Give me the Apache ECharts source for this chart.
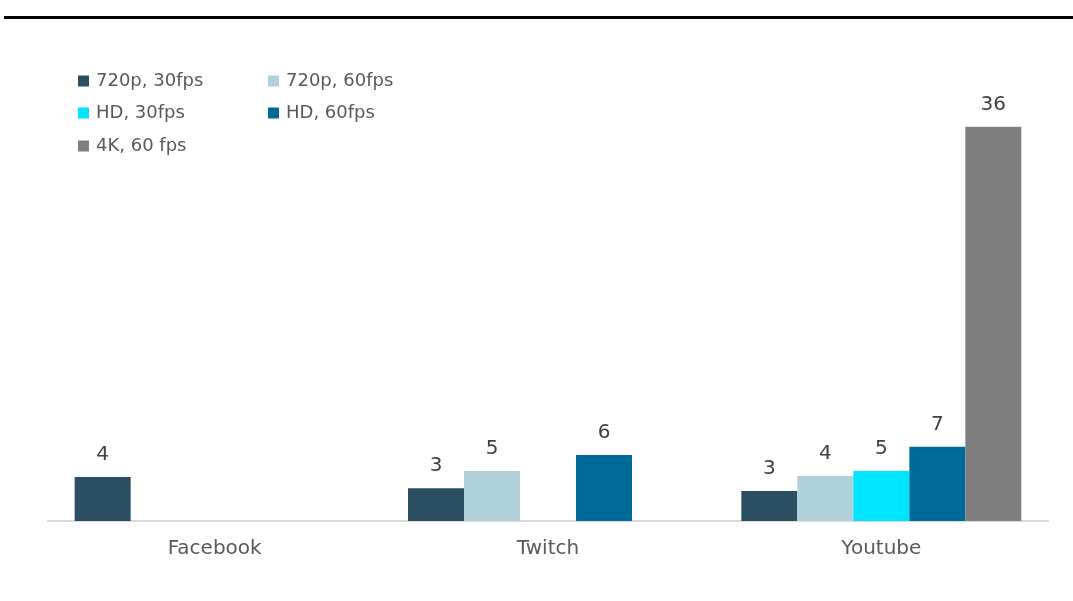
<!DOCTYPE html>
<html>
<head>
<meta charset="utf-8">
<script src="https://cdn.jsdelivr.net/npm/echarts@6/dist/echarts.min.js"></script>
<style>
  html, body { margin: 0; padding: 0; background: #fff; }
  #chart { width: 1073px; height: 601px; }
</style>
</head>
<body>
<div id="chart"></div>
<script>
// Platforms on the category axis
const platforms = ['Facebook', 'Twitch', 'Youtube'];

// Streaming presets (series names)
const seriesNames = ['720p, 30fps', '720p, 60fps', 'HD, 30fps', 'HD, 60fps', '4K, 60 fps'];

// Values per preset, one entry per platform (null = not offered)
const p720_30 = [4.02, 3.0, 2.74];
const p720_60 = [null, 4.57, 4.1];
const hd_30   = [null, null, 4.57];
const hd_60   = [null, 6.03, 6.77];
const k4_60   = [null, null, 36];

const seriesValues = [p720_30, p720_60, hd_30, hd_60, k4_60];
const seriesColors = ['#2B4E63', '#B0D1DC', '#00E5FF', '#006B99', '#7F7F7F'];

const FONT = 'DejaVu Sans';

// Legend placed as a two-column block, one legend per entry
const legendSpots = [
  { left: 78, top: 72 },
  { left: 268, top: 72 },
  { left: 78, top: 104 },
  { left: 268, top: 104 },
  { left: 78, top: 137 }
];

const chart = echarts.init(document.getElementById('chart'), null, { renderer: 'canvas' });

chart.setOption({
  animation: false,
  backgroundColor: '#ffffff',
  color: seriesColors,
  textStyle: { fontFamily: FONT },
  graphic: [{
    type: 'line',
    shape: { x1: 4, y1: 17.5, x2: 1073, y2: 17.5 },
    style: { stroke: '#000000', lineWidth: 3 }
  }],
  legend: seriesNames.map((name, i) => ({
    data: [name],
    left: legendSpots[i].left,
    top: legendSpots[i].top,
    padding: 0,
    icon: 'rect',
    itemWidth: 11,
    itemHeight: 11,
    itemGap: 0,
    selectedMode: false,
    textStyle: { fontFamily: FONT, fontSize: 18, color: '#595959', padding: [0, 0, 0, 2] }
  })),
  grid: { left: 48, right: 25, top: 83, bottom: 80, containLabel: false },
  xAxis: {
    type: 'category',
    data: platforms,
    axisLine: { show: true, lineStyle: { color: '#D9D9D9', width: 2 } },
    axisTick: { show: false },
    axisLabel: { color: '#595959', fontSize: 20, fontFamily: FONT, margin: 18 }
  },
  yAxis: {
    type: 'value',
    min: 0,
    max: 40,
    show: false,
    splitLine: { show: false }
  },
  series: seriesNames.map((name, i) => ({
    name: name,
    type: 'bar',
    data: seriesValues[i],
    barGap: '0%',
    barCategoryGap: '16%',
    itemStyle: { color: seriesColors[i] },
    label: {
      show: true,
      position: 'top',
      distance: 12,
      color: '#404040',
      fontSize: 20,
      fontFamily: FONT,
      formatter: p => (p.value == null ? '' : String(Math.round(p.value)))
    }
  }))
});
</script>
</body>
</html>
